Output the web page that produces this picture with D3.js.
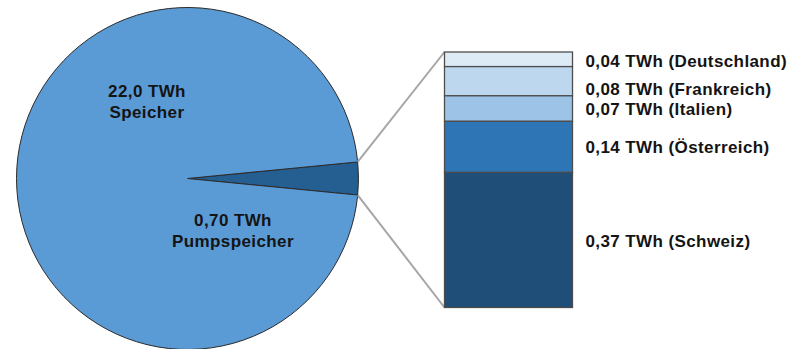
<!DOCTYPE html>
<html>
<head>
<meta charset="utf-8">
<script src="https://cdn.jsdelivr.net/npm/d3@7/dist/d3.min.js"></script>
<style>
html,body{margin:0;padding:0;background:#fff;}
svg text{font-family:"Liberation Sans",Arial,sans-serif;font-weight:bold;font-size:17px;letter-spacing:0.4px;fill:#141414;}
</style>
</head>
<body>
<svg id="chart" width="792" height="349"></svg>
<script>
// ---- data ----
const pieCategories = ["Pumpspeicher", "Speicher"];
const pieValues = [0.70, 22.0];
const pieLabels = ["0,70 TWh", "22,0 TWh"];

const barCategories = ["Deutschland", "Frankreich", "Italien", "Österreich", "Schweiz"];
const barValues = [0.04, 0.08, 0.07, 0.14, 0.37];
const barLabels = ["0,04 TWh", "0,08 TWh", "0,07 TWh", "0,14 TWh", "0,37 TWh"];

// ---- drawing ----
const svg = d3.select("#chart");
const cx = 187.5, cy = 178.5, R = 171;
const pieColors = ["#255e91", "#5b9bd5"];
const barColors = ["#ddebf7", "#bdd7ee", "#9dc3e6", "#2e75b6", "#1f4e79"];

const total = d3.sum(pieValues);
const smallAngle = 2 * Math.PI * pieValues[0] / total;
const start = Math.PI / 2 - smallAngle / 2;
const pie = d3.pie().sort(null).startAngle(start).endAngle(start + 2 * Math.PI);
const arcs = pie(pieValues);
const arc = d3.arc().innerRadius(0).outerRadius(R);

const g = svg.append("g").attr("transform", `translate(${cx},${cy})`);
g.selectAll("path").data(arcs).join("path")
  .attr("d", arc)
  .attr("fill", (d, i) => pieColors[i])
  .attr("stroke", "#2b2b2b")
  .attr("stroke-width", 1);

// bar (stacked column)
const barX0 = 444.5, barW = 128;
const y = d3.scaleLinear().domain([0, d3.sum(barValues)]).range([307.5, 52]);
let cum = d3.sum(barValues);
const segs = barValues.map((v, i) => {
  const top = cum; cum -= v;
  return {v, i, top, bottom: cum};
});

// connector lines
const a0 = arcs[0].startAngle, a1 = arcs[0].endAngle;
const p0 = [cx + R * Math.sin(a0), cy - R * Math.cos(a0)];
const p1 = [cx + R * Math.sin(a1), cy - R * Math.cos(a1)];
svg.append("line").attr("x1", p0[0]).attr("y1", p0[1])
  .attr("x2", barX0).attr("y2", y(d3.sum(barValues)))
  .attr("stroke", "#a6a6a6").attr("stroke-width", 2);
svg.append("line").attr("x1", p1[0]).attr("y1", p1[1])
  .attr("x2", barX0).attr("y2", y(0))
  .attr("stroke", "#a6a6a6").attr("stroke-width", 2);

svg.selectAll("rect.seg").data(segs).join("rect")
  .attr("class", "seg")
  .attr("x", barX0).attr("width", barW)
  .attr("y", d => y(d.top))
  .attr("height", d => y(d.bottom) - y(d.top))
  .attr("fill", d => barColors[d.i])
  .attr("stroke", "#4d4d4d").attr("stroke-width", 1.3);

// bar labels, next to segment centres with small nudges to avoid overlap
const nudge = [2, 8, 0, 0.5, 1];
svg.selectAll("text.bl").data(segs).join("text")
  .attr("class", "bl")
  .attr("x", barX0 + barW + 13)
  .attr("y", d => (y(d.top) + y(d.bottom)) / 2 + nudge[d.i] + 6)
  .text(d => `${barLabels[d.i]} (${barCategories[d.i]})`);

// pie labels
const pieLabelPos = [[45.5, 47.5], [-40.5, -81.5]];
pieLabels.forEach((lab, i) => {
  const t = svg.append("text").attr("text-anchor", "middle")
    .attr("x", cx + pieLabelPos[i][0]).attr("y", cy + pieLabelPos[i][1]);
  t.append("tspan").attr("x", cx + pieLabelPos[i][0]).text(lab);
  t.append("tspan").attr("x", cx + pieLabelPos[i][0]).attr("dy", 20.5).text(pieCategories[i]);
});
</script>
</body>
</html>
